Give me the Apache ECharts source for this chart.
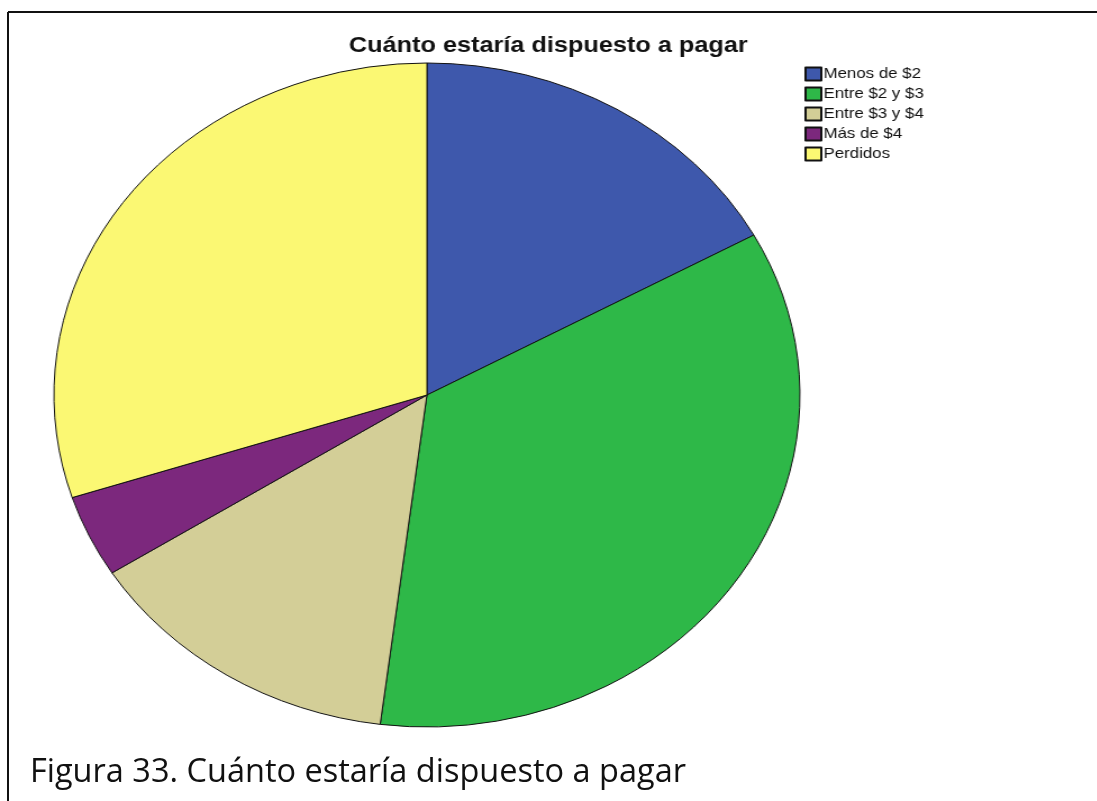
<!DOCTYPE html>
<html>
<head>
<meta charset="utf-8">
<script src="https://cdn.jsdelivr.net/npm/echarts@6/dist/echarts.min.js"></script>
<style>
  html, body { margin: 0; padding: 0; background: #fff; }
  #page { position: relative; width: 1097px; height: 801px; overflow: hidden; background: #fff; }
  /* the SPSS chart is exported slightly stretched horizontally */
  #spss { position: absolute; left: 0; top: 0; width: 976px; height: 801px;
          transform-origin: 0 0; transform: scaleX(1.1235); }
  #frame { position: absolute; left: 0; top: 0; width: 1097px; height: 801px; pointer-events: none; }
</style>
</head>
<body>
<div id="page">
  <div id="spss"></div>
  <div id="frame"></div>
</div>
<script>
// Cuánto estaría dispuesto a pagar — frequencies per answer
const categories = ['Menos de $2', 'Entre $2 y $3', 'Entre $3 y $4', 'Más de $4', 'Perdidos'];
const counts = [17, 35, 14, 4, 30];
const chartTitle = 'Cuánto estaría dispuesto a pagar';
const figureCaption = 'Figura 33. Cuánto estaría dispuesto a pagar';

// SPSS default palette
const palette = ['#3E58AC', '#2EB848', '#D3CE97', '#7C287D', '#FBF873'];

const spss = echarts.init(document.getElementById('spss'), null, { renderer: 'canvas' });
spss.setOption({
  animation: false,
  backgroundColor: 'transparent',
  title: {
    text: chartTitle,
    left: 'center',
    top: 34,
    padding: 0,
    textStyle: { fontFamily: 'Liberation Sans, Arial, sans-serif', fontWeight: 'bold', fontSize: 22.5, color: '#111' }
  },
  legend: {
    orient: 'vertical',
    left: 716,
    top: 66,
    padding: 0,
    itemWidth: 14,
    itemHeight: 13,
    itemGap: 4,
    selectedMode: false,
    icon: 'rect',
    textStyle: { fontFamily: 'Liberation Sans, Arial, sans-serif', fontSize: 15, lineHeight: 16, color: '#111', padding: [0, 0, 0, -3] },
    data: categories
  },
  series: [{
    type: 'pie',
    center: [380, 395],
    radius: 332,
    startAngle: 90,
    clockwise: true,
    label: { show: false },
    labelLine: { show: false },
    emphasis: { disabled: true },
    itemStyle: { borderColor: '#111', borderWidth: 1 },
    data: categories.map((name, i) => ({ name, value: counts[i], itemStyle: { color: palette[i] } }))
  }]
});

const frame = echarts.init(document.getElementById('frame'), null, { renderer: 'canvas' });
frame.setOption({
  animation: false,
  backgroundColor: 'transparent',
  graphic: [
    { type: 'line', shape: { x1: 8, y1: 12, x2: 8, y2: 801 }, style: { stroke: '#111', lineWidth: 2 } },
    { type: 'line', shape: { x1: 8, y1: 12, x2: 1097, y2: 12 }, style: { stroke: '#111', lineWidth: 2 } },
    {
      type: 'text', left: 30, top: 756,
      style: { text: figureCaption, fontFamily: 'Open Sans, sans-serif', fontSize: 32.5, fill: '#111' }
    }
  ]
});
</script>
</body>
</html>
